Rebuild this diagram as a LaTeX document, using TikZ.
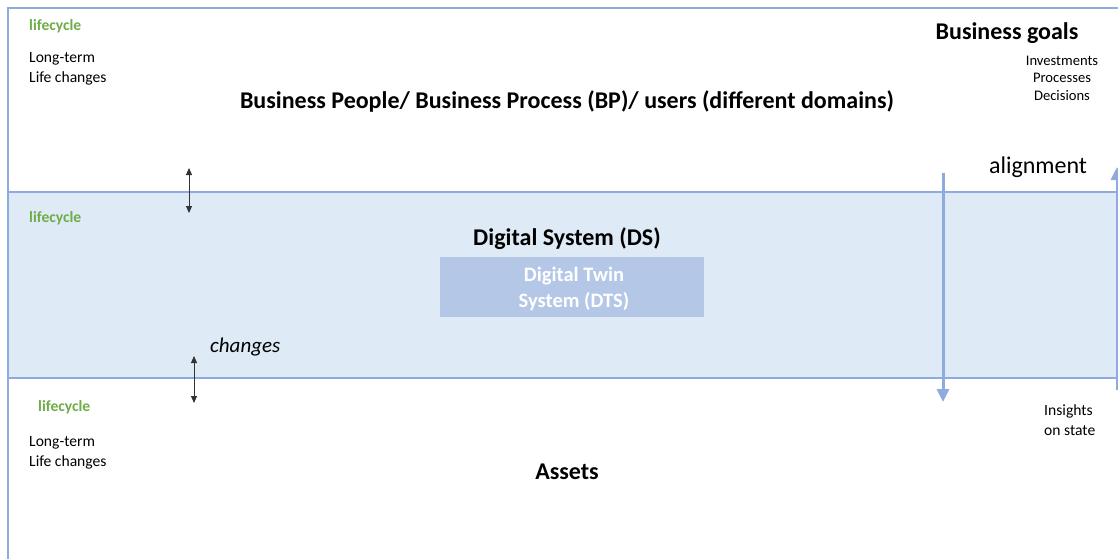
\documentclass[tikz,border=0pt]{standalone}
\usepackage{fontspec}
\setmainfont{Carlito}
\usetikzlibrary{arrows.meta}
\definecolor{frameblue}{HTML}{8FAADC}
\definecolor{bandfill}{HTML}{DEEAF6}
\definecolor{twinfill}{HTML}{B4C7E7}
\definecolor{lifegreen}{HTML}{70AD47}
\tikzset{
  big/.style={font=\fontsize{24}{28}\selectfont},
  bigbold/.style={font=\bfseries\fontsize{24}{28}\selectfont},
  small/.style={font=\fontsize{15.6}{19.5}\selectfont, align=left},
  tiny/.style={font=\fontsize{14.6}{17.5}\selectfont, align=center},
  lifelabel/.style={font=\bfseries\fontsize{15.6}{18}\selectfont, text=lifegreen, anchor=west, inner sep=0pt},
  frameline/.style={draw=frameblue, line width=1.2pt},
  flowarrow/.style={draw=frameblue, line width=3pt, -{Triangle[width=12pt,length=13pt]}},
  changearrow/.style={draw=black!80, line width=0.9pt, {Triangle[width=6pt,length=7pt]}-{Triangle[width=6pt,length=7pt]}},
}
\begin{document}
\begin{tikzpicture}[x=1pt,y=-1pt]
\useasboundingbox (0,0) rectangle (1118,559);
\fill[white] (0,0) rectangle (1118,559);

% middle band: digital system
\fill[bandfill] (8,192) rectangle (1120,378);
\draw[frameline] (8,192) -- (1120,192);
\draw[frameline] (8,378) -- (1120,378);
% outer frame
\draw[frameline] (8,559) -- (8,8) -- (1120,8);

% top layer
\node[lifelabel] (lc1) at (29,26) {lifecycle};
\node[small, anchor=west, inner sep=0pt] (lt1) at (29,69) {Long-term\\Life changes};
\node[bigbold] (bp) at (567,101) {Business People/ Business Process (BP)/ users (different domains)};
\node[bigbold] (goals) at (1007,33) {Business goals};
\node[tiny, anchor=center, inner sep=0pt] (goalitems) at (1062,78) {Investments\\Processes\\Decisions};
\node[big] (align) at (1038,167) {alignment};

% middle layer
\node[lifelabel] (lc2) at (29,218) {lifecycle};
\node[bigbold] (ds) at (567,239) {Digital System (DS)};
\node[fill=twinfill, minimum width=264pt, minimum height=60pt, inner sep=0pt,
      text=white, align=center, font=\bfseries\fontsize{20.5}{26}\selectfont] (dts) at (572,287) {};
\node[text=white, align=center, font=\bfseries\fontsize{20.5}{26}\selectfont, inner sep=0pt]
      (dtslabel) at (574,289) {Digital Twin\\System (DTS)};
\node[font=\itshape\fontsize{21}{24}\selectfont, anchor=west, inner sep=0pt] (chg) at (210,347) {changes};

% bottom layer
\node[lifelabel] (lc3) at (38,407) {lifecycle};
\node[small, anchor=west, inner sep=0pt] (lt3) at (29,453) {Long-term\\Life changes};
\node[bigbold] (assets) at (567,472) {Assets};
\node[small, anchor=west, inner sep=0pt] (ins) at (1044,420) {Insights\\on state};

% change arrows across the layer borders
\coordinate (c1a) at (189,168);
\coordinate (c1b) at (189,213);
\coordinate (c2a) at (194,356);
\coordinate (c2b) at (194,403);
\draw[changearrow] (c1a) -- (c1b);
\draw[changearrow] (c2a) -- (c2b);

% alignment and insight flows
\coordinate (downtop) at (943,173);
\coordinate (downend) at (943,402);
\coordinate (upbottom) at (1117,390);
\coordinate (uptop) at (1117,167);
\draw[flowarrow] (downtop) -- (downend);
\draw[flowarrow] (upbottom) -- (uptop);
\end{tikzpicture}
\end{document}
